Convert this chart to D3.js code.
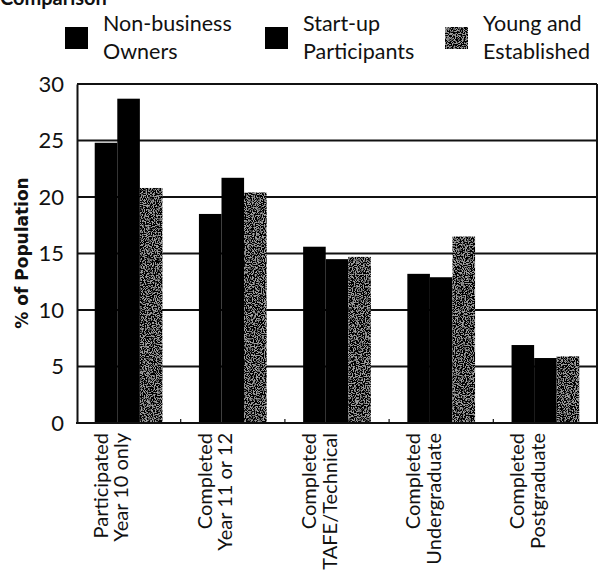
<!DOCTYPE html>
<html>
<head>
<meta charset="utf-8">
<script src="https://cdn.jsdelivr.net/npm/d3@7"></script>
<style>
  body { margin: 0; background: #fff; }
  svg { display: block; }
  text { font-family: Lato, "Noto Sans", sans-serif; fill: #111; }
</style>
</head>
<body>
<div id="chart"></div>
<script>
// categories (two lines each, rotated)
const categories = ["p10", "y12", "tafe", "ug", "pg"];
const categoryLines = [
  ["Participated", "Year 10 only"],
  ["Completed", "Year 11 or 12"],
  ["Completed", "TAFE/Technical"],
  ["Completed", "Undergraduate"],
  ["Completed", "Postgraduate"]
];
const seriesKeys = ["nonBusiness", "startUp", "youngEst"];
const seriesLegend = [
  ["Non-business", "Owners"],
  ["Start-up", "Participants"],
  ["Young and", "Established"]
];
// % of population
const nonBusiness = [24.8, 18.5, 15.6, 13.2, 6.9];
const startUp     = [28.7, 21.7, 14.5, 12.9, 5.75];
const youngEst    = [20.8, 20.4, 14.7, 16.5, 5.9];
const yTicks = [0, 5, 10, 15, 20, 25, 30];

const W = 609, H = 571;
const plot = { left: 77, right: 597, top: 84, bottom: 423 };

const svg = d3.select("#chart").append("svg")
  .attr("width", W).attr("height", H);

// speckled grey texture for third series
const defs = svg.append("defs");
const f = defs.append("filter").attr("id", "speckle")
  .attr("x", 0).attr("y", 0).attr("width", 1).attr("height", 1);
f.append("feTurbulence").attr("type", "fractalNoise").attr("baseFrequency", 0.9)
  .attr("numOctaves", 2).attr("seed", 7).attr("result", "n");
f.append("feColorMatrix").attr("in", "n").attr("type", "matrix")
  .attr("values", "0 0 0 0 0  0 0 0 0 0  0 0 0 0 0  0 0 0 7 -2.7").attr("result", "dots");
f.append("feComposite").attr("in", "dots").attr("in2", "SourceGraphic").attr("operator", "atop");

const fills = ["#000", "#000", "#a0a0a0"];
const filters = [null, null, "url(#speckle)"];

const x0 = d3.scaleBand().domain(categories)
  .range([plot.left, plot.right]).paddingInner(0.35).paddingOuter(0.17);
const x1 = d3.scaleBand().domain(seriesKeys).range([0, x0.bandwidth()]);
const y = d3.scaleLinear().domain([0, 30]).range([plot.bottom, plot.top]);

const values = { nonBusiness, startUp, youngEst };

// grid lines
svg.append("g").selectAll("line").data(yTicks.filter(d => d > 0)).join("line")
  .attr("x1", plot.left).attr("x2", plot.right)
  .attr("y1", d => y(d)).attr("y2", d => y(d))
  .attr("stroke", "#111").attr("stroke-width", 1.8);

// bars
seriesKeys.forEach((key, s) => {
  svg.append("g").selectAll("rect").data(categories).join("rect")
    .attr("x", c => x0(c) + x1(key))
    .attr("width", x1.bandwidth())
    .attr("y", (c, i) => y(values[key][i]))
    .attr("height", (c, i) => y(0) - y(values[key][i]))
    .attr("fill", fills[s])
    .attr("filter", filters[s]);
});

// frame: left axis, bottom axis, right border
const yAxis = d3.axisLeft(y).tickValues(yTicks).tickSize(0).tickPadding(13);
const gy = svg.append("g").attr("transform", `translate(${plot.left},0)`).call(yAxis);
gy.select(".domain").attr("stroke", "#111").attr("stroke-width", 2);
gy.selectAll("text").style("font-size", "22px").style("font-family", "Lato, sans-serif").attr("fill", "#111");

svg.append("line").attr("x1", plot.left - 1).attr("x2", plot.right + 1)
  .attr("y1", y(0)).attr("y2", y(0)).attr("stroke", "#111").attr("stroke-width", 2.2);
svg.append("line").attr("x1", plot.right).attr("x2", plot.right)
  .attr("y1", y(30)).attr("y2", y(0)).attr("stroke", "#111").attr("stroke-width", 2);

// small ticks between categories
const step = x0.step();
svg.append("g").selectAll("line").data(categories.slice(1)).join("line")
  .attr("x1", c => x0(c) - step * x0.paddingInner() / 2)
  .attr("x2", c => x0(c) - step * x0.paddingInner() / 2)
  .attr("y1", y(0)).attr("y2", y(0) - 4)
  .attr("stroke", "#111").attr("stroke-width", 1.2);

// category labels, rotated
const catG = svg.append("g").selectAll("g").data(categories).join("g");
catG.each(function (c, i) {
  const cx = x0(c) + x0.bandwidth() / 2;
  categoryLines[i].forEach((line, k) => {
    d3.select(this).append("text")
      .attr("transform", `translate(${cx - 21 + k * 20.5},433) rotate(-90)`)
      .attr("text-anchor", "end")
      .style("font-size", "20px")
      .text(line);
  });
});

// y title
svg.append("text")
  .attr("transform", "translate(28,253) rotate(-90)")
  .attr("text-anchor", "middle")
  .style("font-family", "'DejaVu Sans', sans-serif")
  .style("font-weight", "bold").style("font-size", "17px")
  .text("% of Population");

// cut-off heading
svg.append("text").attr("x", 0).attr("y", 5)
  .style("font-weight", "bold").style("font-size", "20px")
  .text("Comparison");

// legend
const legendX = [65, 265, 445];
seriesKeys.forEach((key, s) => {
  svg.append("rect")
    .attr("x", legendX[s]).attr("y", 27)
    .attr("width", 23).attr("height", 22)
    .attr("fill", fills[s]).attr("filter", filters[s]);
  seriesLegend[s].forEach((line, k) => {
    svg.append("text")
      .attr("x", legendX[s] + 38).attr("y", 31 + k * 28)
      .style("font-size", "21.5px")
      .text(line);
  });
});
</script>
</body>
</html>
